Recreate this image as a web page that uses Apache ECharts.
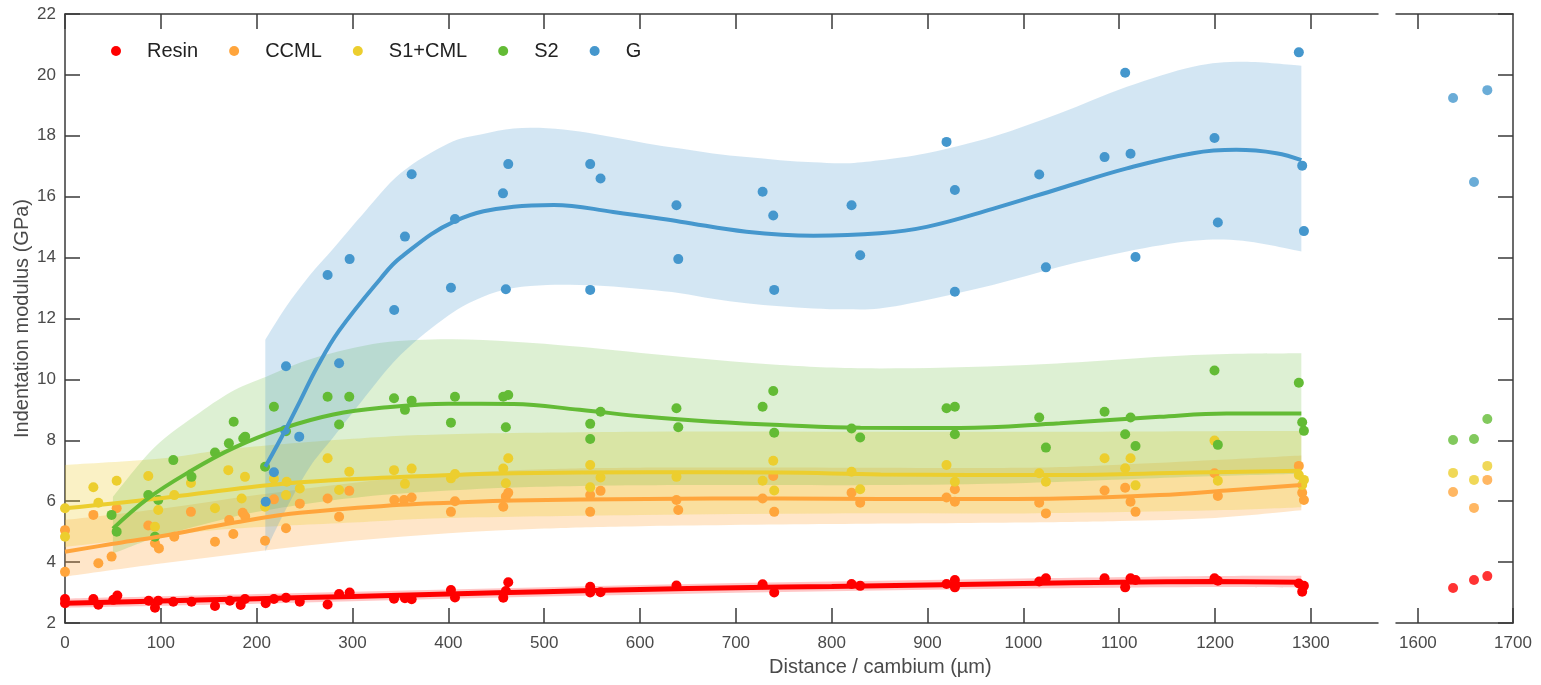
<!DOCTYPE html>
<html><head><meta charset="utf-8">
<script src="https://cdn.jsdelivr.net/npm/echarts@6/dist/echarts.min.js"></script>
<style>html,body{margin:0;padding:0;background:#fff}#c{width:1541px;height:685px}</style>
</head><body><div id="c"></div>
<script>
// ---------- DATA ----------
const seriesNames = ['Resin', 'CCML', 'S1+CML', 'S2', 'G'];
const xTicksMain = [0,100,200,300,400,500,600,700,800,900,1000,1100,1200,1300];
const xTicksSide = [1600, 1700];
const xTicksSideTop = [1600];

// measured points (x in µm, y in GPa) – main panel
const resinPts = [[0,2.79],[0,2.65],[29.6,2.79],[34.8,2.6],[50.4,2.76],[54.6,2.9],[87.3,2.73],[93.9,2.5],[97.3,2.73],[113,2.7],[132,2.7],[156.5,2.56],[172,2.73],[183.3,2.59],[187.8,2.79],[209.4,2.65],[218,2.79],[230.6,2.83],[245,2.7],[274,2.61],[286,2.95],[297,3.0],[343.3,2.8],[354.7,2.81],[361.7,2.78],[402.7,3.08],[406.9,2.84],[457.3,2.83],[460,3.05],[462.5,3.34],[548,3.19],[548,3.0],[558.8,3.01],[638,3.23],[727.9,3.27],[740,3.0],[820.7,3.28],[829.7,3.22],[919.8,3.28],[928.5,3.41],[928.5,3.17],[1016.5,3.36],[1023.5,3.47],[1084.7,3.47],[1106.2,3.17],[1111.8,3.47],[1117,3.41],[1199.4,3.47],[1202.9,3.39],[1287.4,3.3],[1290.9,3.03],[1292.7,3.22]];
const ccmlPts = [[0,5.05],[0,3.68],[29.6,5.55],[34.8,3.96],[48.6,4.18],[53.9,5.77],[86.9,5.2],[93.9,4.62],[98,4.45],[114,4.83],[131.4,5.65],[156.5,4.67],[171.3,5.38],[175.6,4.92],[185.4,5.62],[188,5.5],[208.7,4.7],[218,6.06],[230.6,5.11],[245,5.92],[274,6.09],[286,5.49],[296.6,6.34],[343.6,6.04],[353.7,6.04],[361.7,6.12],[402.7,5.65],[406.9,6.0],[457.3,5.82],[460,6.15],[462.5,6.28],[548,6.2],[548,5.65],[558.8,6.34],[638,6.04],[639.9,5.71],[727.9,6.09],[739,6.83],[740,5.65],[820.7,6.28],[829.7,5.95],[919.8,6.12],[928.5,6.39],[928.5,5.98],[1016.5,5.95],[1023.5,5.6],[1084.7,6.35],[1106.2,6.44],[1111.8,5.98],[1117,5.65],[1199.4,6.92],[1202.9,6.17],[1287.4,7.16],[1290.9,6.28],[1292.7,6.04]];
const s1Pts = [[0,5.77],[0,4.83],[29.6,6.46],[34.8,5.95],[53.9,6.67],[86.9,6.83],[93.9,5.16],[97.3,5.71],[114,6.2],[131.4,6.6],[156.5,5.77],[170.4,7.02],[184.3,6.09],[187.8,6.8],[208.7,5.82],[218,6.74],[230.6,6.2],[231.3,6.64],[245,6.42],[274,7.41],[286,6.37],[296.6,6.97],[343.3,7.02],[354.7,6.57],[361.7,7.07],[402.7,6.75],[406.9,6.89],[457.3,7.07],[460,6.59],[462.5,7.41],[548,7.19],[548,6.46],[558.8,6.78],[638,6.8],[727.9,6.67],[739,7.33],[740,6.35],[820.7,6.97],[829.7,6.39],[919.8,7.19],[928.5,6.64],[1016.5,6.92],[1023.5,6.64],[1084.7,7.41],[1106.2,7.08],[1111.8,7.41],[1117,6.52],[1199.4,7.99],[1202.9,6.67],[1287.4,6.86],[1290.9,6.53],[1292.7,6.7]];
const s2Pts = [[48.6,5.55],[53.9,5.0],[86.9,6.2],[93.9,4.83],[97.3,6.04],[113,7.35],[132,6.8],[156.5,7.6],[171,7.9],[176,8.61],[186,8.06],[188,8.12],[208.7,7.13],[218,9.1],[230.6,8.3],[274,9.43],[286,8.52],[296.6,9.43],[343.3,9.38],[354.7,9.0],[361.7,9.3],[402.7,8.58],[406.9,9.43],[457.3,9.43],[460,8.43],[462.5,9.49],[548,8.54],[548,8.04],[558.8,8.94],[638,9.05],[639.9,8.43],[727.9,9.1],[739,9.62],[740,8.25],[820.7,8.39],[829.7,8.09],[919.8,9.05],[928.5,9.1],[928.5,8.2],[1016.5,8.75],[1023.5,7.76],[1084.7,8.94],[1106.2,8.2],[1111.8,8.75],[1117,7.81],[1199.4,10.29],[1202.9,7.85],[1287.4,9.89],[1290.9,8.59],[1292.7,8.31]];
const gPts = [[209.4,5.98],[218,6.95],[229.5,8.34],[230.6,10.43],[244.4,8.12],[274,13.43],[286,10.53],[297,13.95],[343.5,12.28],[354.7,14.69],[361.7,16.74],[402.7,13.01],[406.9,15.27],[457,16.11],[460,12.96],[462.5,17.07],[548,17.07],[548,12.94],[558.8,16.6],[638,15.72],[639.9,13.95],[727.9,16.16],[739,15.38],[740,12.94],[820.7,15.72],[829.7,14.08],[919.8,17.8],[928.5,16.22],[928.5,12.88],[1016.5,16.73],[1023.5,13.68],[1084.7,17.3],[1106.2,20.07],[1111.8,17.41],[1117,14.02],[1199.4,17.93],[1202.9,15.15],[1287.4,20.74],[1290.9,17.02],[1292.7,14.87]];

// measured points – side panel
const resinSide = [[1637,3.15],[1659,3.41],[1673,3.54]];
const ccmlSide = [[1637,6.3],[1659,5.78],[1673,6.7]];
const s1Side = [[1637,6.93],[1659,6.7],[1673,7.16]];
const s2Side = [[1637,8.01],[1659,8.04],[1673,8.7]];
const gSide = [[1637,19.24],[1659,16.48],[1673,19.5]];

// fitted curves
const resinFit = [[0,2.65],[100,2.72],[200,2.8],[300,2.87],[400,2.95],[500,3.03],[600,3.1],[700,3.16],[800,3.2],[900,3.25],[1000,3.3],[1100,3.34],[1200,3.36],[1290,3.34]];
const ccmlFit = [[0,4.34],[50,4.6],[100,4.85],[177,5.3],[245,5.62],[350,5.88],[402,5.95],[468,6.02],[607,6.07],[746,6.09],[851,6.07],[934,6.07],[1038,6.09],[1142,6.2],[1212,6.35],[1290,6.53]];
const s1Fit = [[0,5.77],[100,6.1],[177,6.4],[245,6.62],[330,6.77],[402,6.86],[468,6.92],[607,6.95],[746,6.94],[851,6.88],[1038,6.86],[1177,6.94],[1290,7.0]];
const s2Fit = [[50,5.1],[87,6.1],[129,6.95],[176,7.75],[228,8.4],[280,8.85],[330,9.07],[400,9.2],[468,9.19],[537,9.0],[607,8.77],[676,8.61],[746,8.5],[830,8.41],[934,8.4],[1038,8.56],[1142,8.77],[1212,8.88],[1290,8.88]];
const gFit = [[209,7.13],[230,8.34],[245,9.27],[263,10.4],[286,11.6],[329,13.3],[350,14.0],[407,15.2],[468,15.67],[510,15.73],[572,15.5],[642,15.18],[711,14.85],[781,14.72],[850,14.8],[899,15.01],[968,15.6],[1038,16.27],[1108,16.93],[1177,17.43],[1222,17.54],[1264,17.43],[1290,17.2]];

// confidence bands: x, lower, upper
const resinBandX = [0,200,400,600,800,1000,1200,1290];
const resinBandLo = [2.5,2.63,2.8,2.93,3.04,3.13,3.18,3.16];
const resinBandHi = [2.8,2.95,3.1,3.25,3.36,3.46,3.54,3.55];
const ccmlBandX = [0,100,200,300,400,500,600,800,1000,1100,1200,1290];
const ccmlBandLo = [3.52,3.95,4.35,4.7,4.95,5.1,5.18,5.25,5.3,5.35,5.45,5.7];
const ccmlBandHi = [5.38,5.75,6.2,6.6,6.9,7.05,7.1,7.1,7.1,7.2,7.35,7.5];
const s1BandX = [0,100,177,300,400,600,800,1000,1200,1290];
const s1BandLo = [4.5,4.85,5.1,5.3,5.45,5.55,5.6,5.6,5.7,5.8];
const s1BandHi = [7.19,7.4,7.73,8.05,8.2,8.28,8.28,8.28,8.3,8.3];
const s2BandX = [50,94,140,177,210,260,330,400,468,537,642,746,850,1003,1177,1290];
const s2BandLo = [4.28,4.8,5.2,5.5,5.7,5.95,6.2,6.35,6.45,6.5,6.53,6.53,6.53,6.6,6.8,6.9];
const s2BandHi = [6.15,7.79,8.9,9.65,10.09,10.7,11.2,11.32,11.24,11.07,10.74,10.47,10.36,10.47,10.8,10.86];
const gBandX = [209,230,255,280,310,350,400,435,468,503,537,572,607,642,676,711,746,781,815,850,899,968,1038,1108,1177,1229,1290];
const gBandLo = [4.34,5.7,7.1,8.1,9.3,10.8,12.1,12.7,13.0,13.1,13.1,13.05,12.95,12.83,12.65,12.5,12.4,12.33,12.3,12.33,12.61,13.1,13.7,14.2,14.55,14.55,14.2];
const gBandHi = [11.3,12.35,13.4,14.3,15.4,16.77,17.75,18.05,18.24,18.25,18.14,17.95,17.75,17.58,17.42,17.3,17.2,17.13,17.1,17.2,17.43,17.97,18.74,19.61,20.27,20.43,20.3];

// ---------- STYLE ----------
const colors = ['#ff0000', '#ffa53c', '#ecce2e', '#63bb35', '#4597cd'];
const bandColors = ['rgba(255,0,0,0.22)', 'rgba(255,165,60,0.28)', 'rgba(236,206,46,0.28)', 'rgba(99,187,53,0.22)', 'rgba(69,151,205,0.24)'];
const FONT = 'Liberation Sans, Arial, Helvetica, sans-serif';
const AXC = '#3a3a3a';

const mainPts = [resinPts, ccmlPts, s1Pts, s2Pts, gPts];
const sidePts = [resinSide, ccmlSide, s1Side, s2Side, gSide];
const fits = [resinFit, ccmlFit, s1Fit, s2Fit, gFit];
const bands = [
  [resinBandX, resinBandLo, resinBandHi],
  [ccmlBandX, ccmlBandLo, ccmlBandHi],
  [s1BandX, s1BandLo, s1BandHi],
  [s2BandX, s2BandLo, s2BandHi],
  [gBandX, gBandLo, gBandHi]
];

// Catmull-Rom -> cubic Bezier path through pixel points
function curvePath(pts, start) {
  let d = start ? ('M' + pts[0][0] + ',' + pts[0][1]) : ('L' + pts[0][0] + ',' + pts[0][1]);
  const n = pts.length;
  for (let i = 0; i < n - 1; i++) {
    const p0 = pts[Math.max(i - 1, 0)], p1 = pts[i], p2 = pts[i + 1], p3 = pts[Math.min(i + 2, n - 1)];
    const c1x = p1[0] + (p2[0] - p0[0]) / 6, c1y = p1[1] + (p2[1] - p0[1]) / 6;
    const c2x = p2[0] - (p3[0] - p1[0]) / 6, c2y = p2[1] - (p3[1] - p1[1]) / 6;
    d += 'C' + c1x + ',' + c1y + ' ' + c2x + ',' + c2y + ' ' + p2[0] + ',' + p2[1];
  }
  return d;
}

const series = [];
bands.forEach((b, k) => {
  const [xs, lo, hi] = b;
  series.push({
    type: 'custom', name: seriesNames[k] + ' band', xAxisIndex: 0, yAxisIndex: 0,
    data: xs.map((x, i) => [x, lo[i], hi[i]]),
    encode: { x: 0, y: [1, 2] },
    silent: true, z: 1, clip: true,
    renderItem: function (params, api) {
      if (params.dataIndex !== 0) return null;
      const up = xs.map((x, i) => api.coord([x, hi[i]]));
      const dn = xs.map((x, i) => api.coord([x, lo[i]])).reverse();
      const d = curvePath(up, true) + curvePath(dn, false) + 'Z';
      return { type: 'path', shape: { pathData: d }, style: { fill: bandColors[k], stroke: null } };
    }
  });
});
mainPts.forEach((d, k) => {
  series.push({
    type: 'scatter', name: seriesNames[k], xAxisIndex: 0, yAxisIndex: 0,
    data: d, symbolSize: 10, itemStyle: { color: colors[k], opacity: 1 }, z: 3
  });
});
fits.forEach((d, k) => {
  series.push({
    type: 'line', name: seriesNames[k] + ' fit', xAxisIndex: 0, yAxisIndex: 0,
    data: d, symbol: 'none', smooth: 0.4,
    lineStyle: { color: colors[k], width: k === 0 ? 5 : 4 }, z: 4
  });
});
sidePts.forEach((d, k) => {
  series.push({
    type: 'scatter', name: seriesNames[k], xAxisIndex: 2, yAxisIndex: 1,
    data: d, symbolSize: 10, itemStyle: { color: colors[k] }, z: 3
  });
});

const axLine = { show: true, onZero: false, lineStyle: { color: AXC, width: 1.5 } };
const tick = (extra) => Object.assign({ show: true, inside: true, length: 15, lineStyle: { color: AXC, width: 1.5 } }, extra || {});
const lbl = { color: '#4a4a4a', fontSize: 17, fontFamily: FONT, formatter: v => String(v) };

const option = {
  animation: false,
  backgroundColor: '#fff',
  grid: [
    { left: 65, top: 14, width: 1313, height: 609 },
    { left: 1396, top: 14, width: 117, height: 609 }
  ],
  legend: {
    data: seriesNames, icon: 'circle', left: 106, top: 36,
    itemWidth: 52, itemHeight: 10, itemGap: 31,
    textStyle: { fontSize: 20, color: '#222', fontFamily: FONT }
  },
  xAxis: [
    { type: 'value', gridIndex: 0, position: 'bottom', min: 0, max: 1370,
      axisLine: axLine, axisTick: tick({ customValues: xTicksMain }),
      axisLabel: Object.assign({ customValues: xTicksMain, margin: 12 }, lbl),
      splitLine: { show: false } },
    { type: 'value', gridIndex: 0, position: 'top', min: 0, max: 1370,
      axisLine: axLine, axisTick: tick({ customValues: xTicksMain }),
      axisLabel: { show: false }, splitLine: { show: false } },
    { type: 'value', gridIndex: 1, position: 'bottom', min: 1577, max: 1700,
      axisLine: axLine, axisTick: tick({ customValues: xTicksSide }),
      axisLabel: Object.assign({ customValues: xTicksSide, margin: 12 }, lbl),
      splitLine: { show: false } },
    { type: 'value', gridIndex: 1, position: 'top', min: 1577, max: 1700,
      axisLine: axLine, axisTick: tick({ customValues: xTicksSideTop }),
      axisLabel: { show: false }, splitLine: { show: false } }
  ],
  yAxis: [
    { type: 'value', gridIndex: 0, position: 'left', min: 2, max: 22, interval: 2,
      axisLine: axLine, axisTick: tick(),
      axisLabel: Object.assign({ margin: 9 }, lbl), splitLine: { show: false },
      name: 'Indentation modulus (GPa)', nameLocation: 'middle', nameGap: 33, nameMoveOverlap: false,
      nameTextStyle: { fontSize: 20, color: '#4a4a4a', fontFamily: FONT } },
    { type: 'value', gridIndex: 1, position: 'right', min: 2, max: 22, interval: 2,
      axisLine: axLine, axisTick: tick(),
      axisLabel: { show: false }, splitLine: { show: false } }
  ],
  graphic: [{
    type: 'text', left: 769, top: 657,
    style: { text: 'Distance / cambium (µm)', fontSize: 20, fill: '#4a4a4a', fontFamily: FONT }
  }],
  series: series
};

const chart = echarts.init(document.getElementById('c'), null, { renderer: 'canvas' });
chart.setOption(option);
</script>
</body></html>
